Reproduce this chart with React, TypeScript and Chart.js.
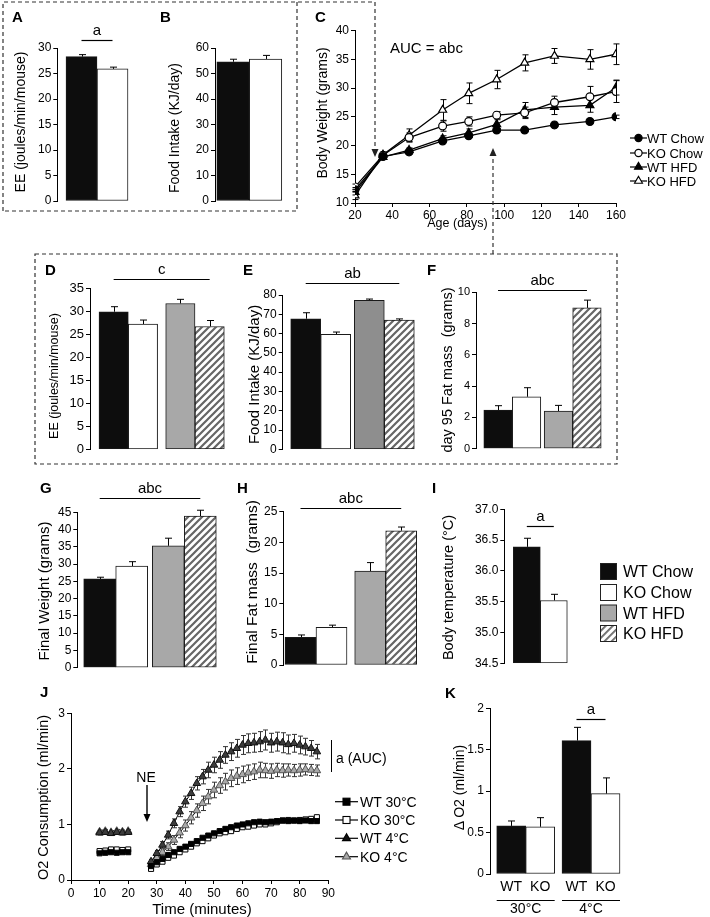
import React, { useEffect, useRef } from 'react';
import { Chart, registerables } from 'chart.js';
Chart.register(...registerables);

const FONT = "'Liberation Sans', Arial, Helvetica, sans-serif";
const NARROW = "'Liberation Sans Narrow', 'Arial Narrow', 'Liberation Sans', Arial, sans-serif";

/* ---------------- data ---------------- */
const genotypes = ['WT', 'KO'];
const diets = ['Chow', 'HFD'];

// A: energy expenditure (joules/min/mouse)
const eeWT = [28.3];
const eeWTErr = [0.4];
const eeKO = [25.9];
const eeKOErr = [0.35];

// B: food intake (KJ/day)
const fiWT = [54.6];
const fiWTErr = [1.0];
const fiKO = [55.7];
const fiKOErr = [1.4];

// C: body weight (grams) vs age (days)
const ageDays = [20, 35, 49, 67, 81, 96, 111, 127, 146, 160];
const bwWTChow = [12.3, 18.1, 18.9, 20.8, 21.7, 22.7, 22.7, 23.6, 24.2, 25.0];
const bwWTChowErr = [0.4, 0.3, 0.3, 0.3, 0.3, 0.3, 0.3, 0.3, 0.3, 0.3];
const bwKOChow = [12.8, 18.3, 21.4, 23.4, 24.2, 25.3, 25.7, 27.5, 28.5, 29.4];
const bwKOChowErr = [0.5, 0.4, 0.8, 0.9, 0.8, 0.6, 1.0, 1.1, 1.8, 1.9];
const bwWTHFD = [11.9, 18.0, 19.2, 21.2, 22.2, 23.7, 26.2, 26.7, 27.0, 30.1];
const bwWTHFDErr = [0.5, 0.4, 0.4, 0.5, 0.7, 0.8, 1.3, 1.3, 1.2, 1.3];
const bwKOHFD = [11.3, 18.4, 21.8, 26.2, 29.1, 31.5, 34.4, 35.6, 35.0, 35.9];
const bwKOHFDErr = [0.7, 0.5, 1.1, 1.8, 1.8, 1.6, 1.4, 1.3, 1.7, 1.8];
const bwSeries = ['WT Chow', 'KO Chow', 'WT HFD', 'KO HFD'];

// D: EE by diet (Chow, HFD)
const eeDietWT = [29.9, 31.7];
const eeDietWTErr = [1.1, 0.9];
const eeDietKO = [27.2, 26.7];
const eeDietKOErr = [0.9, 1.3];

// E: food intake by diet
const fiDietWT = [67.7, 77.3];
const fiDietWTErr = [3.1, 0.6];
const fiDietKO = [59.6, 67.0];
const fiDietKOErr = [1.2, 0.6];

// F: day 95 fat mass (grams)
const fat95WT = [2.47, 2.41];
const fat95WTErr = [0.28, 0.36];
const fat95KO = [3.32, 9.0];
const fat95KOErr = [0.58, 0.5];

// G: final weight (grams)
const finWtWT = [25.7, 35.3];
const finWtWTErr = [0.5, 2.2];
const finWtKO = [29.4, 43.9];
const finWtKOErr = [1.3, 1.7];

// H: final fat mass (grams)
const finFatWT = [4.5, 15.3];
const finFatWTErr = [0.4, 1.4];
const finFatKO = [6.15, 21.9];
const finFatKOErr = [0.35, 0.6];

// I: body temperature (°C)
const tempWT = [36.39];
const tempWTErr = [0.14];
const tempKO = [35.52];
const tempKOErr = [0.1];

// J: O2 consumption (ml/min) vs time (minutes)
const jTime = [10, 12, 14, 16, 18, 20, 22, 24, 26, 28, 30, 32, 34, 36, 38, 40, 42, 44, 46, 48, 50, 52, 54, 56, 58, 60, 62, 64, 66, 68, 70, 72, 74, 76, 78, 80, 82, 84, 86];
const o2WT30 = [0.48, 0.49, 0.50, 0.49, 0.50, 0.50, null, null, null, 0.25, 0.32, 0.38, 0.45, 0.50, 0.56, 0.60, 0.65, 0.70, 0.76, 0.80, 0.84, 0.88, 0.92, 0.95, 0.98, 1.00, 1.02, 1.04, 1.05, 1.04, 1.05, 1.06, 1.07, 1.06, 1.07, 1.06, 1.07, 1.06, 1.06];
const o2KO30 = [0.52, 0.53, 0.55, 0.55, 0.54, 0.55, null, null, null, 0.20, 0.28, 0.33, 0.40, 0.44, 0.50, 0.55, 0.60, 0.66, 0.70, 0.75, 0.80, 0.84, 0.86, 0.88, 0.92, 0.95, 0.96, 0.98, 1.00, 1.00, 1.02, 1.04, 1.07, 1.08, 1.07, 1.08, 1.09, 1.10, 1.13];
const o2WT4 = [0.85, 0.86, 0.84, 0.86, 0.85, 0.86, null, null, null, 0.33, 0.48, 0.63, 0.81, 1.02, 1.23, 1.41, 1.56, 1.74, 1.86, 1.98, 2.07, 2.16, 2.25, 2.31, 2.37, 2.43, 2.46, 2.47, 2.49, 2.52, 2.47, 2.49, 2.47, 2.44, 2.46, 2.43, 2.40, 2.37, 2.31];
const o2WT4Err = [0.04, 0.04, 0.04, 0.04, 0.04, 0.04, null, null, null, 0.04, 0.05, 0.06, 0.07, 0.08, 0.09, 0.10, 0.11, 0.12, 0.13, 0.14, 0.14, 0.15, 0.15, 0.16, 0.16, 0.17, 0.17, 0.17, 0.18, 0.18, 0.17, 0.17, 0.18, 0.17, 0.16, 0.16, 0.15, 0.14, 0.13];
const o2KO4 = [0.87, 0.88, 0.86, 0.88, 0.87, 0.88, null, null, null, 0.28, 0.40, 0.50, 0.60, 0.72, 0.85, 0.98, 1.12, 1.25, 1.38, 1.50, 1.62, 1.70, 1.77, 1.83, 1.87, 1.90, 1.93, 1.95, 1.98, 1.97, 1.96, 1.98, 1.97, 1.98, 1.97, 1.98, 1.99, 1.98, 1.97];
const o2KO4Err = [0.03, 0.03, 0.03, 0.03, 0.03, 0.03, null, null, null, 0.04, 0.05, 0.06, 0.07, 0.08, 0.09, 0.10, 0.11, 0.12, 0.13, 0.13, 0.14, 0.14, 0.15, 0.15, 0.15, 0.15, 0.14, 0.14, 0.14, 0.13, 0.13, 0.12, 0.12, 0.11, 0.11, 0.11, 0.10, 0.10, 0.10];
const o2Series = ['WT 30°C', 'KO 30°C', 'WT 4°C', 'KO 4°C'];

// K: delta O2 (ml/min) by temperature
const kTemps = ['30°C', '4°C'];
const dO2WT = [0.58, 1.61];
const dO2WTErr = [0.06, 0.16];
const dO2KO = [0.57, 0.97];
const dO2KOErr = [0.11, 0.19];

// tick label formats
const tempTickFmt = (v: number) => v.toFixed(1);
const plainTickFmt = (v: number) => String(Math.round(v * 100) / 100);

/* ---------------- styles ---------------- */
const BLACK = '#0d0d0d';
const GREY = '#a8a8a8';
const GREY_E = '#8e8e8e';
const HATCH = 'hatch';

function makeHatch(): any {
  const c = document.createElement('canvas');
  c.width = 7;
  c.height = 7;
  const g = c.getContext('2d')!;
  g.fillStyle = '#fff';
  g.fillRect(0, 0, 7, 7);
  g.strokeStyle = '#666';
  g.lineWidth = 2.2;
  g.beginPath();
  g.moveTo(-1, 8); g.lineTo(8, -1);
  g.moveTo(-1, 1); g.lineTo(1, -1);
  g.moveTo(6, 8); g.lineTo(8, 6);
  g.stroke();
  return g.createPattern(c, 'repeat');
}

const extras: any = {
  id: 'extras',
  beforeDatasetsDraw(chart: any) {
    const ctx = chart.ctx;
    const ys = chart.scales.y;
    chart.data.datasets.forEach((ds: any, di: number) => {
      if (!ds.errs) return;
      const meta = chart.getDatasetMeta(di);
      ctx.save();
      ctx.strokeStyle = ds.errColor || '#000';
      ctx.lineWidth = 1;
      meta.data.forEach((el: any, i: number) => {
        const pt = ds.data[i];
        const e = ds.errs[i];
        if (!pt || pt.y == null || e == null) return;
        const x = Math.round(el.x) + 0.5;
        const top = ys.getPixelForValue(pt.y + e);
        const bot = ds.errBoth ? ys.getPixelForValue(pt.y - e) : el.y;
        const cw = ds.capW ?? 3;
        ctx.beginPath();
        ctx.moveTo(x, bot);
        ctx.lineTo(x, top);
        ctx.moveTo(x - cw, top);
        ctx.lineTo(x + cw, top);
        if (ds.errBoth) {
          ctx.moveTo(x - cw, bot);
          ctx.lineTo(x + cw, bot);
        }
        ctx.stroke();
      });
      ctx.restore();
    });
  },
  afterDraw(chart: any, _a: any, opts: any) {
    const ctx = chart.ctx;
    const ys = chart.scales.y;
    if (opts && opts.sig) {
      const s = opts.sig;
      const x0 = chart.getDatasetMeta(s.from[0]).data[s.from[1]].x;
      const x1 = chart.getDatasetMeta(s.to[0]).data[s.to[1]].x;
      const y = Math.round(ys.getPixelForValue(s.y)) + 0.5;
      ctx.save();
      ctx.strokeStyle = '#000';
      ctx.lineWidth = 1.2;
      ctx.beginPath();
      ctx.moveTo(x0, y);
      ctx.lineTo(x1, y);
      ctx.stroke();
      ctx.fillStyle = '#000';
      ctx.font = `15px ${FONT}`;
      ctx.textAlign = 'center';
      ctx.textBaseline = 'alphabetic';
      ctx.fillText(s.text, (x0 + x1) / 2, y - 6);
      ctx.restore();
    }
    if (opts && opts.xlab) {
      const { bars, groups } = opts.xlab;
      const bottom = chart.chartArea.bottom;
      ctx.save();
      ctx.fillStyle = '#000';
      ctx.strokeStyle = '#000';
      ctx.lineWidth = 1;
      ctx.font = `14px ${FONT}`;
      ctx.textAlign = 'center';
      ctx.textBaseline = 'alphabetic';
      chart.data.datasets.forEach((_ds: any, di: number) => {
        chart.getDatasetMeta(di).data.forEach((el: any) => {
          ctx.fillText(bars[di], el.x, bottom + 17);
        });
      });
      groups.forEach((g: string, gi: number) => {
        const a = chart.getDatasetMeta(0).data[gi];
        const b = chart.getDatasetMeta(1).data[gi];
        const x0 = a.x - a.width / 2;
        const x1 = b.x + b.width / 2;
        ctx.beginPath();
        ctx.moveTo(x0, Math.round(bottom + 26) + 0.5);
        ctx.lineTo(x1, Math.round(bottom + 26) + 0.5);
        ctx.stroke();
        ctx.fillText(g, (x0 + x1) / 2, bottom + 39);
      });
      ctx.restore();
    }
  },
};

function yScale(min: number, max: number, step: number, font: any, fmt?: (v: number) => string) {
  const ticks: any = { stepSize: step, font, color: '#000', padding: 2, autoSkip: false };
  if (fmt) ticks.callback = (v: any) => fmt(Number(v));
  return {
    type: 'linear',
    position: 'left',
    min,
    max,
    ticks,
    grid: { display: true, drawOnChartArea: false, drawTicks: true, tickLength: 4, color: '#000', lineWidth: 1 },
    border: { display: true, color: '#000', width: 1 },
  };
}

function xScale(min: number, max: number, step: number, font: any, pad: number) {
  return {
    type: 'linear',
    position: 'bottom',
    min,
    max,
    offset: false,
    ticks: { stepSize: step, font, color: '#000', padding: pad, maxRotation: 0, autoSkip: false },
    grid: { display: true, drawOnChartArea: false, drawTicks: true, tickLength: 4, color: '#000', lineWidth: 1 },
    border: { display: true, color: '#000', width: 1 },
  };
}

const baseOptions = () => ({
  responsive: false,
  animation: false,
  devicePixelRatio: 1,
  plugins: { legend: { display: false }, tooltip: { enabled: false } },
});

type Geo = { L: number; T: number; R: number; B: number; ml: number; mt: number; mr: number; mb: number; xH: number };

function ChartPanel({ geo, build }: { geo: Geo; build: () => any }) {
  const ref = useRef<HTMLCanvasElement>(null);
  const left = Math.floor(geo.L - geo.ml);
  const top = Math.floor(geo.T - geo.mt);
  const w = Math.ceil(geo.R + geo.mr) - left;
  const h = Math.ceil(geo.B + geo.xH + geo.mb) - top;
  useEffect(() => {
    const cfg = build();
    cfg.options.layout = {
      padding: { left: 0, top: geo.T - top, right: left + w - geo.R, bottom: top + h - geo.B - geo.xH },
    };
    const yw = geo.L - left;
    cfg.options.scales.y.afterFit = (s: any) => {
      s.width = yw;
      s.paddingTop = 0; s.paddingBottom = 0; s.paddingLeft = 0; s.paddingRight = 0;
    };
    if (cfg.options.scales.x.display !== false) {
      cfg.options.scales.x.afterFit = (s: any) => {
        s.height = geo.xH;
        s.paddingTop = 0; s.paddingBottom = 0; s.paddingLeft = 0; s.paddingRight = 0;
      };
    }
    const chart = new Chart(ref.current as HTMLCanvasElement, cfg);
    return () => chart.destroy();
  }, []);
  return <canvas ref={ref} width={w} height={h} style={{ position: 'absolute', left, top, width: w, height: h }} />;
}

type BarSpec = {
  L: number; T: number; B: number; centers: number[]; thick: number;
  ymin: number; ymax: number; step: number; font: any; fmt?: (v: number) => string;
  wt: number[]; wtErr: number[]; ko: number[]; koErr: number[];
  wtCol: string[]; koCol: string[];
  sig?: any; base?: number; xlab?: any; mb?: number;
};

function barPanel(p: BarSpec) {
  const c0 = p.centers[0];
  const R = p.centers[p.centers.length - 1] + p.thick + 6;
  const k = p.centers.length > 1 ? p.centers[1] - c0 : 60;
  const xmin = -(c0 - p.L) / k;
  const xmax = (R - c0) / k;
  const geo: Geo = { L: p.L, T: p.T, R, B: p.B, ml: 46, mt: 48, mr: 6, mb: p.mb ?? 10, xH: 0 };
  const build = () => {
    const hp = makeHatch();
    const col = (c: string) => (c === HATCH ? hp : c);
    const mk = (label: string, vals: number[], errs: number[], colors: string[]) => {
      const ds: any = {
        label,
        data: vals.map((v, i) => ({ x: i, y: v })),
        errs,
        capW: 3.5,
        backgroundColor: colors.map(col),
        borderColor: '#1a1a1a',
        borderWidth: 1,
        borderSkipped: false,
        barThickness: p.thick,
      };
      if (p.base !== undefined) ds.base = p.base;
      return ds;
    };
    const options: any = baseOptions();
    options.scales = {
      x: { type: 'linear', display: false, min: xmin, max: xmax, offset: false, grid: { offset: false } },
      y: yScale(p.ymin, p.ymax, p.step, p.font, p.fmt),
    };
    options.plugins.extras = { sig: p.sig, xlab: p.xlab };
    return {
      type: 'bar',
      data: { datasets: [mk(genotypes[0], p.wt, p.wtErr, p.wtCol), mk(genotypes[1], p.ko, p.koErr, p.koCol)] },
      options,
      plugins: [extras],
    };
  };
  return { geo, build };
}

const F12 = { family: FONT, size: 12 };
const F13 = { family: FONT, size: 13 };

const panelA = barPanel({
  L: 57.3, T: 48, B: 201, centers: [97], thick: 31, ymin: 0, ymax: 30, step: 5, font: F12,
  wt: eeWT, wtErr: eeWTErr, ko: eeKO, koErr: eeKOErr, wtCol: [BLACK], koCol: ['#fff'],
  sig: { from: [0, 0], to: [1, 0], y: 31.6, text: 'a' },
});
const panelB = barPanel({
  L: 215, T: 48, B: 201, centers: [249.3], thick: 32.5, ymin: 0, ymax: 60, step: 10, font: F12,
  wt: fiWT, wtErr: fiWTErr, ko: fiKO, koErr: fiKOErr, wtCol: [BLACK], koCol: ['#fff'],
});
const panelD = barPanel({
  L: 90, T: 288.3, B: 449.3, centers: [128.3, 195], thick: 29.3, ymin: 0, ymax: 35, step: 5, font: F13,
  wt: eeDietWT, wtErr: eeDietWTErr, ko: eeDietKO, koErr: eeDietKOErr, wtCol: [BLACK, GREY], koCol: ['#fff', HATCH],
  sig: { from: [0, 0], to: [1, 1], y: 37, text: 'c' },
});
const panelE = barPanel({
  L: 282.7, T: 295, B: 449.3, centers: [320.7, 384.3], thick: 30, ymin: 0, ymax: 80, step: 10, font: F12,
  wt: fiDietWT, wtErr: fiDietWTErr, ko: fiDietKO, koErr: fiDietKOErr, wtCol: [BLACK, GREY_E], koCol: ['#fff', HATCH],
  sig: { from: [0, 0], to: [1, 1], y: 86.1, text: 'ab' },
});
const panelF = barPanel({
  L: 476, T: 292.3, B: 448.7, centers: [512.3, 572.7], thick: 28.5, ymin: 0, ymax: 10, step: 2,
  font: { family: NARROW, size: 11 },
  wt: fat95WT, wtErr: fat95WTErr, ko: fat95KO, koErr: fat95KOErr, wtCol: [BLACK, GREY], koCol: ['#fff', HATCH],
  sig: { from: [0, 0], to: [1, 1], y: 10.15, text: 'abc' },
});
const panelG = barPanel({
  L: 77.3, T: 512.3, B: 667.7, centers: [115.7, 184.3], thick: 32, ymin: 0, ymax: 45, step: 5, font: F12,
  wt: finWtWT, wtErr: finWtWTErr, ko: finWtKO, koErr: finWtKOErr, wtCol: [BLACK, GREY], koCol: ['#fff', HATCH],
  sig: { from: [0, 0], to: [1, 1], y: 49.2, text: 'abc' },
});
const panelH = barPanel({
  L: 283.3, T: 511.7, B: 665, centers: [316, 385.7], thick: 31, ymin: 0, ymax: 25, step: 5,
  font: { family: NARROW, size: 12 },
  wt: finFatWT, wtErr: finFatWTErr, ko: finFatKO, koErr: finFatKOErr, wtCol: [BLACK, GREY], koCol: ['#fff', HATCH],
  sig: { from: [0, 0], to: [1, 1], y: 25.55, text: 'abc' },
});
const panelI = barPanel({
  L: 504.3, T: 509.3, B: 663.3, centers: [540.3], thick: 27, ymin: 34.5, ymax: 37, step: 0.5, font: F12,
  fmt: tempTickFmt, base: 34.5,
  wt: tempWT, wtErr: tempWTErr, ko: tempKO, koErr: tempKOErr, wtCol: [BLACK], koCol: ['#fff'],
  sig: { from: [0, 0], to: [1, 0], y: 36.73, text: 'a' },
});
const panelK = barPanel({
  L: 490, T: 708.3, B: 874, centers: [525.7, 591], thick: 29, ymin: 0, ymax: 2, step: 0.5, font: F12,
  fmt: plainTickFmt,
  wt: dO2WT, wtErr: dO2WTErr, ko: dO2KO, koErr: dO2KOErr, wtCol: [BLACK, BLACK], koCol: ['#fff', '#fff'],
  sig: { from: [0, 1], to: [1, 1], y: 1.87, text: 'a' },
  xlab: { bars: genotypes, groups: kTemps }, mb: 44,
});

const panelC = {
  geo: { L: 355, T: 30.7, R: 616, B: 203, ml: 42, mt: 12, mr: 14, mb: 4, xH: 20 } as Geo,
  build: () => {
    const mk = (label: string, vals: number[], errs: number[], style: string, fill: string) => ({
      label,
      data: vals.map((v, i) => ({ x: ageDays[i], y: v })),
      errs,
      errBoth: true,
      capW: 3,
      borderColor: '#000',
      borderWidth: 1.3,
      pointStyle: style,
      pointRadius: style === 'triangle' ? 4.6 : 3.9,
      pointBackgroundColor: fill,
      pointBorderColor: '#000',
      pointBorderWidth: 1.2,
      fill: false,
      tension: 0,
    });
    const options: any = baseOptions();
    options.scales = { x: xScale(20, 160, 20, F12, 1), y: yScale(10, 40, 5, F12) };
    options.plugins.extras = {};
    return {
      type: 'line',
      data: {
        datasets: [
          mk(bwSeries[0], bwWTChow, bwWTChowErr, 'circle', '#000'),
          mk(bwSeries[1], bwKOChow, bwKOChowErr, 'circle', '#fff'),
          mk(bwSeries[2], bwWTHFD, bwWTHFDErr, 'triangle', '#000'),
          mk(bwSeries[3], bwKOHFD, bwKOHFDErr, 'triangle', '#fff'),
        ],
      },
      options,
      plugins: [extras],
    };
  },
};

const panelJ = {
  geo: { L: 71, T: 713.3, R: 328.3, B: 880, ml: 40, mt: 12, mr: 14, mb: 4, xH: 22 } as Geo,
  build: () => {
    const mk = (label: string, vals: (number | null)[], errs: any, style: string, fill: string, border: string) => ({
      label,
      data: vals.map((v, i) => ({ x: jTime[i], y: v })),
      errs,
      errBoth: true,
      errColor: '#333',
      capW: 2.5,
      borderColor: '#000',
      borderWidth: 1,
      pointStyle: style,
      pointRadius: style === 'triangle' ? 4.4 : 3.6,
      pointBackgroundColor: fill,
      pointBorderColor: border,
      pointBorderWidth: 1,
      fill: false,
      tension: 0,
      spanGaps: false,
    });
    const options: any = baseOptions();
    options.scales = { x: xScale(0, 90, 10, F12, 2), y: yScale(0, 3, 1, F12) };
    options.plugins.extras = {};
    return {
      type: 'line',
      data: {
        datasets: [
          mk(o2Series[0], o2WT30, null, 'rect', '#000', '#000'),
          mk(o2Series[1], o2KO30, null, 'rect', '#fff', '#000'),
          mk(o2Series[2], o2WT4, o2WT4Err, 'triangle', '#3c3c3c', '#111'),
          mk(o2Series[3], o2KO4, o2KO4Err, 'triangle', '#a9a9a9', '#555'),
        ],
      },
      options,
      plugins: [extras],
    };
  },
};

const panels = [panelA, panelB, panelC, panelD, panelE, panelF, panelG, panelH, panelI, panelJ, panelK];

/* ---------------- overlay helpers ---------------- */
function VTitle({ x, y, size, text }: { x: number; y: number; size: number; text: string }) {
  return (
    <text
      transform={`translate(${x},${y}) rotate(-90)`}
      textAnchor="middle"
      dominantBaseline="central"
      fontSize={size}
      fontFamily={FONT}
      fill="#000"
      xmlSpace="preserve"
      style={{ whiteSpace: 'pre' }}
    >
      {text}
    </text>
  );
}

function Letter({ x, y, t }: { x: number; y: number; t: string }) {
  return (
    <text x={x} y={y} fontSize={15} fontWeight="bold" fontFamily={FONT} fill="#000">
      {t}
    </text>
  );
}

function Marker({ kind, cx, cy, fill, stroke }: { kind: string; cx: number; cy: number; fill: string; stroke: string }) {
  if (kind === 'circle') return <circle cx={cx} cy={cy} r={3.6} fill={fill} stroke={stroke} strokeWidth={1.2} />;
  if (kind === 'rect') return <rect x={cx - 3.5} y={cy - 3.5} width={7} height={7} fill={fill} stroke={stroke} strokeWidth={1.1} />;
  const r = 4.6;
  return (
    <polygon
      points={`${cx},${cy - r} ${cx - r * 0.87},${cy + r * 0.5} ${cx + r * 0.87},${cy + r * 0.5}`}
      fill={fill}
      stroke={stroke}
      strokeWidth={1.1}
    />
  );
}

const cLegendStyle = [
  { kind: 'circle', fill: '#000', stroke: '#000' },
  { kind: 'circle', fill: '#fff', stroke: '#000' },
  { kind: 'triangle', fill: '#000', stroke: '#000' },
  { kind: 'triangle', fill: '#fff', stroke: '#000' },
];
const jLegendStyle = [
  { kind: 'rect', fill: '#000', stroke: '#000' },
  { kind: 'rect', fill: '#fff', stroke: '#000' },
  { kind: 'triangle', fill: '#111', stroke: '#000' },
  { kind: 'triangle', fill: '#a9a9a9', stroke: '#555' },
];
const barLegendLabels = ['WT Chow', 'KO Chow', 'WT HFD', 'KO HFD'];
const barLegendFill = [BLACK, '#fff', GREY, 'url(#hatchPat)'];

export default function App() {
  const cRows = [138, 153, 167, 181];
  const jRows = [801.7, 820, 838.3, 856.7];
  const iRows = [563, 584, 604.5, 625];
  return (
    <div style={{ position: 'absolute', left: 0, top: 0, width: 710, height: 917, background: '#fff', overflow: 'hidden', fontFamily: FONT }}>
      {panels.map((p, i) => (
        <ChartPanel key={i} geo={p.geo} build={p.build} />
      ))}
      <svg width={710} height={917} style={{ position: 'absolute', left: 0, top: 0, pointerEvents: 'none' }}>
        <defs>
          <pattern id="hatchPat" width="5" height="5" patternUnits="userSpaceOnUse" patternTransform="rotate(45)">
            <rect width="5" height="5" fill="#fff" />
            <rect width="1.8" height="5" fill="#666" />
          </pattern>
        </defs>
        {/* dashed boxes and connectors */}
        <g fill="none" stroke="#333" strokeWidth={1.2} strokeDasharray="4 3">
          <path d="M3,211 L3,2 L375,2 L375,150" />
          <path d="M297,2 L297,211 L3,211" />
          <rect x={35} y={254} width={582} height={210} />
          <path d="M493,254 L493,156" />
        </g>
        <polygon points="371.5,149 378.5,149 375,157" fill="#222" />
        <polygon points="489.5,156 496.5,156 493,148" fill="#222" />

        {/* panel letters */}
        <Letter x={12} y={22} t="A" />
        <Letter x={160} y={22} t="B" />
        <Letter x={315} y={22} t="C" />
        <Letter x={45} y={275} t="D" />
        <Letter x={243} y={275} t="E" />
        <Letter x={427} y={275} t="F" />
        <Letter x={40} y={493} t="G" />
        <Letter x={237} y={493} t="H" />
        <Letter x={432} y={493} t="I" />
        <Letter x={40} y={697} t="J" />
        <Letter x={445} y={698} t="K" />

        {/* axis titles */}
        <VTitle x={19.5} y={122} size={14} text="EE (joules/min/mouse)" />
        <VTitle x={174} y={128} size={14} text="Food Intake (KJ/day)" />
        <VTitle x={322} y={113} size={14} text="Body Weight (grams)" />
        <VTitle x={54} y={376} size={12.5} text="EE (joules/min/mouse)" />
        <VTitle x={253.5} y={374.5} size={15} text="Food Intake (KJ/day)" />
        <VTitle x={446.5} y={370} size={14.5} text="day 95 Fat mass  (grams)" />
        <VTitle x={43.5} y={591} size={15} text="Final Weight (grams)" />
        <VTitle x={251.5} y={582} size={15.5} text="Final Fat mass  (grams)" />
        <VTitle x={448} y={587.5} size={14.5} text="Body temperature (°C)" />
        <VTitle x={43} y={797.5} size={14.5} text="O2 Consumption (ml/min)" />
        <VTitle x={459} y={787.5} size={14} text="Δ O2 (ml/min)" />
        <text x={457.5} y={223} textAnchor="middle" dominantBaseline="central" fontSize={12.5} fontFamily={FONT}>
          Age (days)
        </text>
        <text x={202} y={908} textAnchor="middle" dominantBaseline="central" fontSize={15} fontFamily={FONT}>
          Time (minutes)
        </text>

        {/* C annotations and legend */}
        <text x={390} y={53} fontSize={15} fontFamily={FONT}>
          AUC = abc
        </text>
        {bwSeries.map((s, i) => (
          <g key={s}>
            <line x1={630} x2={647} y1={cRows[i]} y2={cRows[i]} stroke="#000" strokeWidth={1.2} />
            <Marker kind={cLegendStyle[i].kind} cx={638.5} cy={cRows[i]} fill={cLegendStyle[i].fill} stroke={cLegendStyle[i].stroke} />
            <text x={647} y={cRows[i]} dominantBaseline="central" fontSize={13} fontFamily={FONT}>
              {s}
            </text>
          </g>
        ))}

        {/* J annotations and legend */}
        <text x={146} y={782} textAnchor="middle" fontSize={14} fontFamily={FONT}>
          NE
        </text>
        <line x1={147} x2={147} y1={785} y2={815} stroke="#000" strokeWidth={1.4} />
        <polygon points="143.5,814 150.5,814 147,822" fill="#000" />
        <line x1={331.5} x2={331.5} y1={740} y2={772} stroke="#000" strokeWidth={1} />
        <text x={336} y={758} dominantBaseline="central" fontSize={14} fontFamily={FONT}>
          a (AUC)
        </text>
        {o2Series.map((s, i) => (
          <g key={s}>
            <line x1={335} x2={358} y1={jRows[i]} y2={jRows[i]} stroke="#000" strokeWidth={1.2} />
            <Marker kind={jLegendStyle[i].kind} cx={346.5} cy={jRows[i]} fill={jLegendStyle[i].fill} stroke={jLegendStyle[i].stroke} />
            <text x={360} y={jRows[i]} dominantBaseline="central" fontSize={14} fontFamily={FONT}>
              {s}
            </text>
          </g>
        ))}

        {/* bar legend next to I */}
        {barLegendLabels.map((s, i) => (
          <g key={s}>
            <rect x={600.5} y={iRows[i] + 0.5} width={16} height={16} fill={barLegendFill[i]} stroke="#222" strokeWidth={1} />
            <text x={623} y={iRows[i] + 8.5} dominantBaseline="central" fontSize={16} fontFamily={FONT}>
              {s}
            </text>
          </g>
        ))}
      </svg>
    </div>
  );
}
